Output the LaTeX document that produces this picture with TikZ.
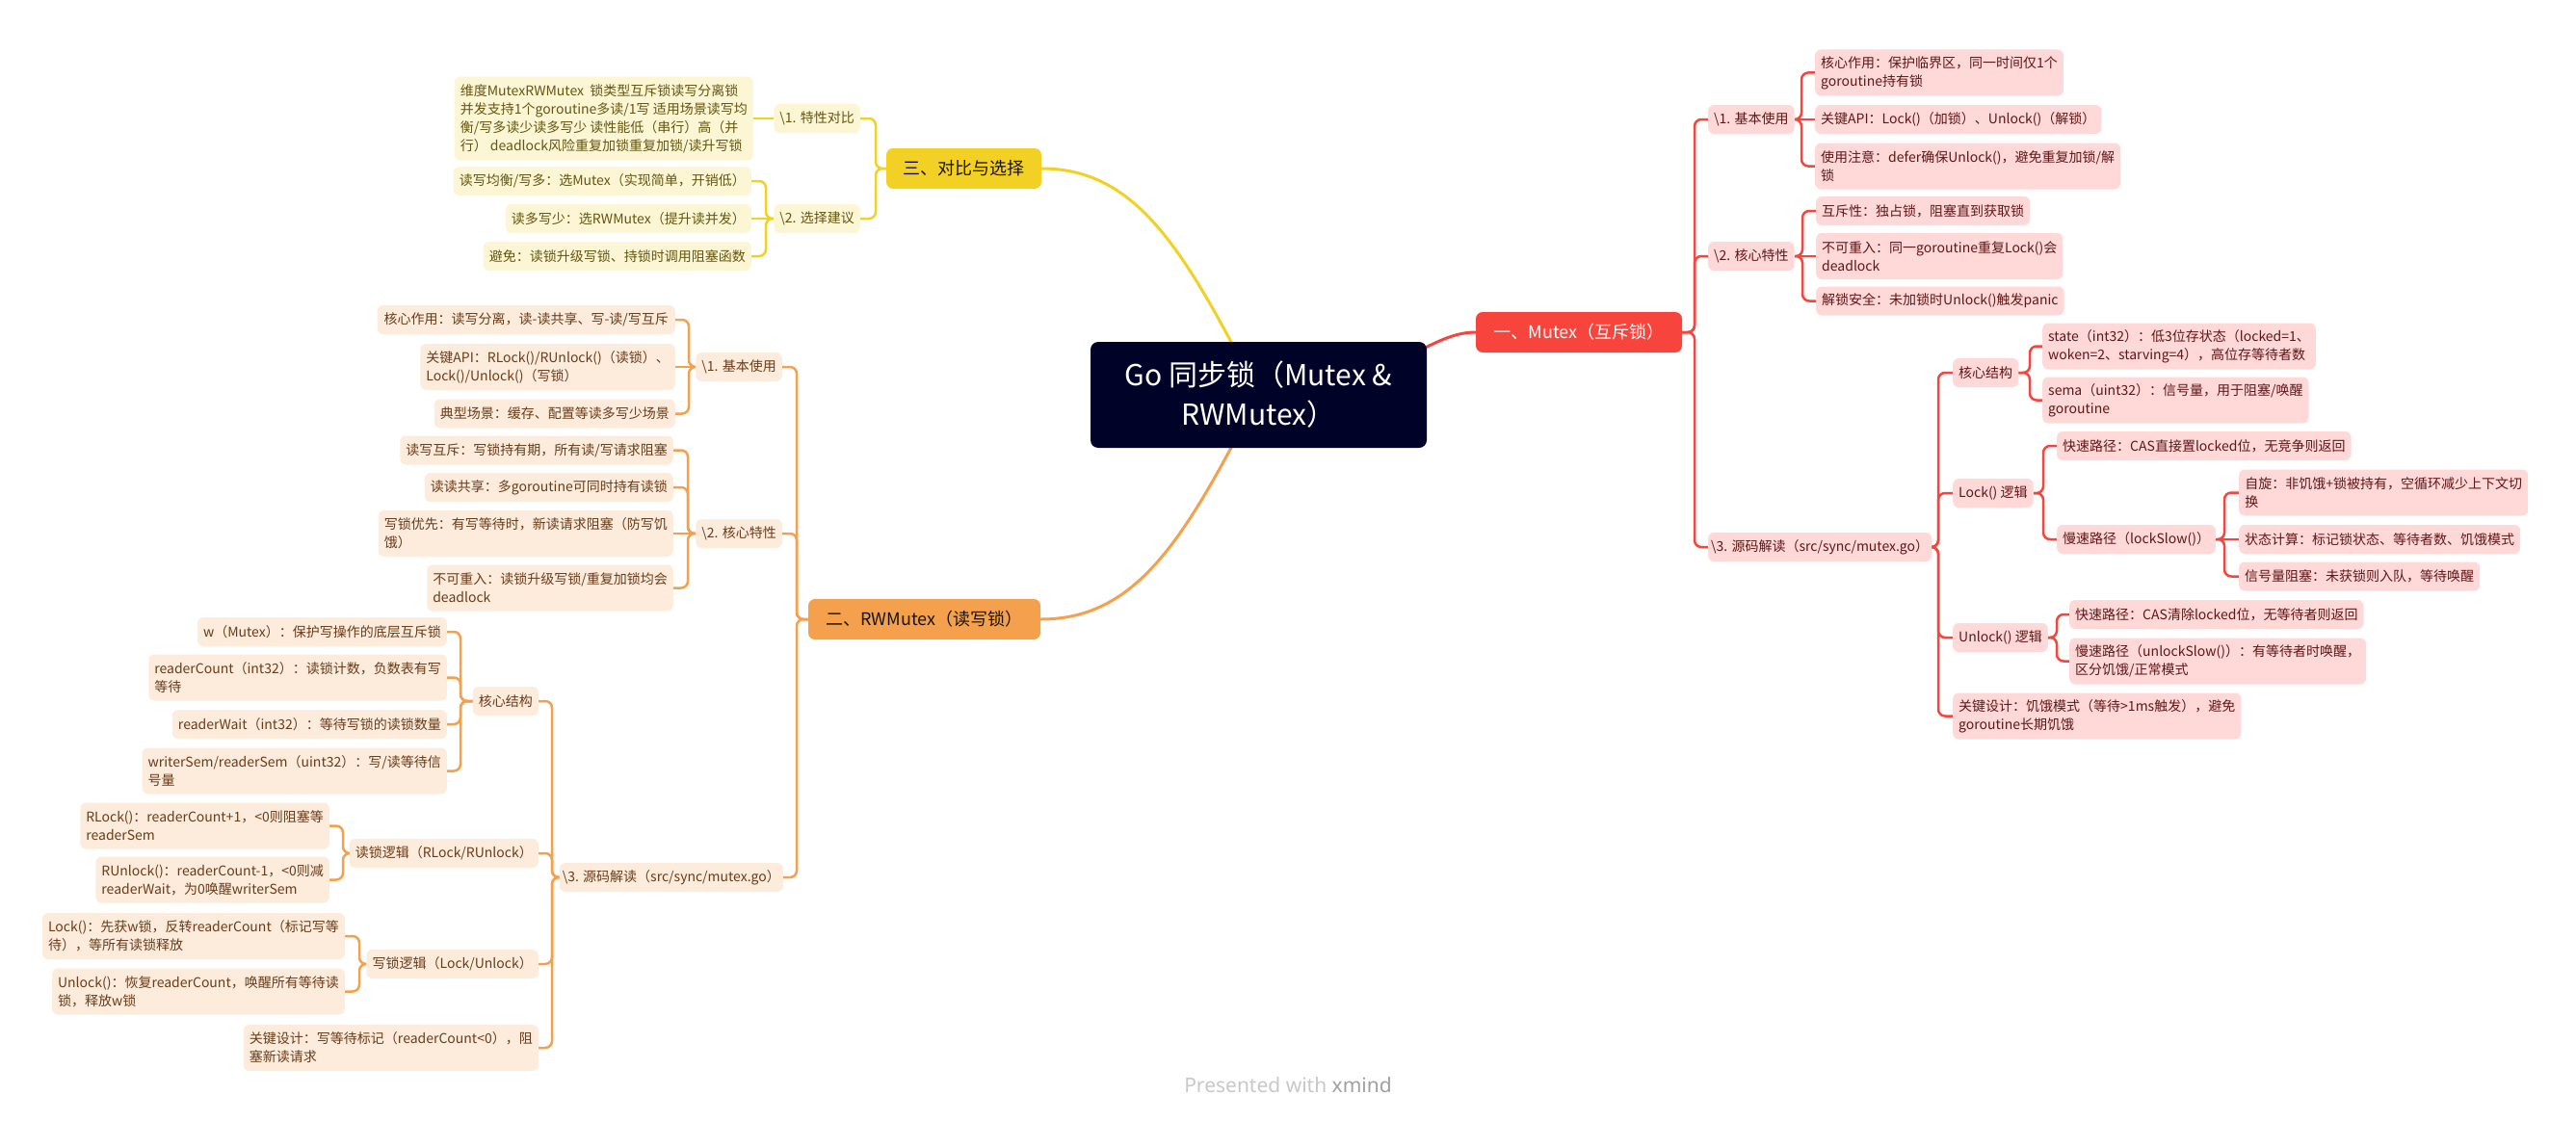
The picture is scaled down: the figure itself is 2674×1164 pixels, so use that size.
\documentclass[tikz,border=0pt]{standalone}
\usepackage{fontspec}
\setmainfont{Noto Sans CJK SC}
\newfontfamily\wmfont{Noto Sans}
\pgfdeclarelayer{bgl}
\pgfdeclarelayer{lines}
\pgfsetlayers{bgl,lines,main}
\definecolor{cnavy}{RGB}{0,2,40}
\definecolor{cred}{RGB}{247,69,61}
\definecolor{credlt}{RGB}{255,216,216}
\definecolor{credtx}{RGB}{95,22,22}
\definecolor{cor}{RGB}{245,160,77}
\definecolor{corlt}{RGB}{253,235,220}
\definecolor{cortx}{RGB}{105,60,25}
\definecolor{cye}{RGB}{242,209,36}
\definecolor{cyelt}{RGB}{252,246,212}
\definecolor{cyetx}{RGB}{100,85,15}
\definecolor{lonetx}{RGB}{25,20,10}
\definecolor{cwm}{RGB}{200,200,200}
\definecolor{cwmb}{RGB}{160,160,160}
\begin{document}
\begin{tikzpicture}[x=1pt,y=-1pt,
  base/.style={rounded corners=6pt, inner xsep=6pt, inner ysep=4pt, font=\fontsize{14}{19}\selectfont, align=left},
  rN/.style={base, fill=credlt, text=credtx},
  oN/.style={base, fill=corlt, text=cortx},
  yN/.style={base, fill=cyelt, text=cyetx},
  sa/.style={minimum height=30},
  sb/.style={minimum height=48},
  lone/.style={rounded corners=7pt, minimum height=42, inner xsep=10pt, font=\fontsize{18}{22}\selectfont},
  cnode/.style={rounded corners=8pt, fill=cnavy, text=white, minimum width=349, minimum height=110, align=center, font=\fontsize{30}{41}\selectfont},
  rl/.style={draw=cred, line width=2.5pt, rounded corners=7pt},
  ol/.style={draw=cor, line width=2.5pt, rounded corners=7pt},
  yl/.style={draw=cye, line width=2.5pt, rounded corners=7pt},
  cur/.style={line width=3pt}
]
\begin{pgfonlayer}{bgl}
\fill[white] (0,0) rectangle (2674,1164);
\end{pgfonlayer}
\useasboundingbox (0,0) rectangle (2674,1164);

% central and level 1
\node[cnode] (root) at (1306.5,410) {Go 同步锁（Mutex \&\\RWMutex）};
\node[lone, fill=cred, text=white, minimum width=214] (mutex) at (1639,345) {一、Mutex（互斥锁）};
\node[lone, fill=cor, text=lonetx, minimum width=241] (rw) at (959.5,643) {二、RWMutex（读写锁）};
\node[lone, fill=cye, text=lonetx, minimum width=161] (cmp) at (1000.5,175) {三、对比与选择};

% ---------- Mutex ----------
\node[rN, sa, anchor=west, minimum width=83] (m1) at (1773,124) {\textbackslash1. 基本使用};
\node[rN, sa, anchor=west, minimum width=85] (m2) at (1773,266) {\textbackslash2. 核心特性};
\node[rN, sa, anchor=west, minimum width=219, inner xsep=3pt] (m3) at (1773,568) {\textbackslash3. 源码解读（src/sync/mutex.go）};

\node[rN, sb, anchor=west, minimum width=255] (m11) at (1884,75.5) {核心作用：保护临界区，同一时间仅1个\\goroutine持有锁};
\node[rN, sa, anchor=west, minimum width=290] (m12) at (1884,124) {关键API：Lock()（加锁）、Unlock()（解锁）};
\node[rN, sb, anchor=west, minimum width=313] (m13) at (1884,172.5) {使用注意：defer确保Unlock()，避免重复加锁/解\\锁};

\node[rN, sa, anchor=west, minimum width=222] (m21) at (1885,219) {互斥性：独占锁，阻塞直到获取锁};
\node[rN, sb, anchor=west, minimum width=254] (m22) at (1885,266) {不可重入：同一goroutine重复Lock()会\\deadlock};
\node[rN, sa, anchor=west, minimum width=252] (m23) at (1885,312.5) {解锁安全：未加锁时Unlock()触发panic};

\node[rN, sa, anchor=west, minimum width=66] (m31) at (2027,387) {核心结构};
\node[rN, sa, anchor=west, minimum width=81] (m32) at (2027,512) {Lock() 逻辑};
\node[rN, sa, anchor=west, minimum width=94] (m33) at (2027,662) {Unlock() 逻辑};
\node[rN, sb, anchor=west, minimum width=294] (m34) at (2027,743.5) {关键设计：饥饿模式（等待>1ms触发），避免\\goroutine长期饥饿};

\node[rN, sb, anchor=west, minimum width=276] (m311) at (2120,359.5) {state（int32）：低3位存状态（locked=1、\\woken=2、starving=4），高位存等待者数};
\node[rN, sb, anchor=west, minimum width=270] (m312) at (2120,415.5) {sema（uint32）：信号量，用于阻塞/唤醒\\goroutine};

\node[rN, sa, anchor=west, minimum width=303] (m321) at (2135,463) {快速路径：CAS直接置locked位，无竞争则返回};
\node[rN, sa, anchor=west, minimum width=161] (m322) at (2135,560) {慢速路径（lockSlow()）};

\node[rN, sb, anchor=west, minimum width=300] (m3221) at (2324,511.5) {自旋：非饥饿+锁被持有，空循环减少上下文切\\换};
\node[rN, sa, anchor=west, minimum width=290] (m3222) at (2324,560) {状态计算：标记锁状态、等待者数、饥饿模式};
\node[rN, sa, anchor=west, minimum width=249] (m3223) at (2324,598.5) {信号量阻塞：未获锁则入队，等待唤醒};

\node[rN, sa, anchor=west, minimum width=303] (m331) at (2148,638) {快速路径：CAS清除locked位，无等待者则返回};
\node[rN, sb, anchor=west, minimum width=302] (m332) at (2148,686.5) {慢速路径（unlockSlow()）：有等待者时唤醒，\\区分饥饿/正常模式};

% ---------- Compare (yellow) ----------
\node[yN, sa, anchor=east, minimum width=84] (y1) at (893,123) {\textbackslash1. 特性对比};
\node[yN, sa, anchor=east, minimum width=85] (y2) at (893,227) {\textbackslash2. 选择建议};
\node[yN, minimum height=87, anchor=east, minimum width=304] (y11) at (782,123) {维度MutexRWMutex\ \ 锁类型互斥锁读写分离锁\\并发支持1个goroutine多读/1写 适用场景读写均\\衡/写多读少读多写少 读性能低（串行）高（并\\行） deadlock风险重复加锁重复加锁/读升写锁};
\node[yN, sa, anchor=east, minimum width=307] (y21) at (780,188) {读写均衡/写多：选Mutex（实现简单，开销低）};
\node[yN, sa, anchor=east, minimum width=254] (y22) at (780,227) {读多写少：选RWMutex（提升读并发）};
\node[yN, sa, anchor=east, minimum width=277] (y23) at (780,266) {避免：读锁升级写锁、持锁时调用阻塞函数};

% ---------- RWMutex (orange) ----------
\node[oN, sa, anchor=east, minimum width=84] (o1) at (812,381) {\textbackslash1. 基本使用};
\node[oN, sa, anchor=east, minimum width=86] (o2) at (812,554) {\textbackslash2. 核心特性};
\node[oN, sa, anchor=east, minimum width=223, inner xsep=3pt] (o3) at (813,911) {\textbackslash3. 源码解读（src/sync/mutex.go）};

\node[oN, sa, anchor=east, minimum width=309] (o11) at (701,332) {核心作用：读写分离，读-读共享、写-读/写互斥};
\node[oN, sb, anchor=east, minimum width=255] (o12) at (701,381) {关键API：RLock()/RUnlock()（读锁）、\\Lock()/Unlock()（写锁）};
\node[oN, sa, anchor=east, minimum width=249] (o13) at (701,429.5) {典型场景：缓存、配置等读多写少场景};

\node[oN, sa, anchor=east, minimum width=282] (o21) at (699,467.5) {读写互斥：写锁持有期，所有读/写请求阻塞};
\node[oN, sa, anchor=east, minimum width=253] (o22) at (699,506) {读读共享：多goroutine可同时持有读锁};
\node[oN, sb, anchor=east, minimum width=304] (o23) at (699,554) {写锁优先：有写等待时，新读请求阻塞（防写饥\\饿）};
\node[oN, sb, anchor=east, minimum width=253] (o24) at (699,610.5) {不可重入：读锁升级写锁/重复加锁均会\\deadlock};

\node[oN, sa, anchor=east, minimum width=66] (o31) at (559,728) {核心结构};
\node[oN, sa, anchor=east, minimum width=191] (o32) at (559,886) {读锁逻辑（RLock/RUnlock）};
\node[oN, sa, anchor=east, minimum width=174] (o33) at (559,1001) {写锁逻辑（Lock/Unlock）};
\node[oN, sb, anchor=east, minimum width=304] (o34) at (559,1088) {关键设计：写等待标记（readerCount<0），阻\\塞新读请求};

\node[oN, sa, anchor=east, minimum width=256] (o311) at (464,656) {w（Mutex）：保护写操作的底层互斥锁};
\node[oN, sb, anchor=east, minimum width=303] (o312) at (464,703.5) {readerCount（int32）：读锁计数，负数表有写\\等待};
\node[oN, sa, anchor=east, minimum width=280] (o313) at (464,752) {readerWait（int32）：等待写锁的读锁数量};
\node[oN, sb, anchor=east, minimum width=301] (o314) at (464,800.5) {writerSem/readerSem（uint32）：写/读等待信\\号量};

\node[oN, sb, anchor=east, minimum width=252] (o321) at (342,857.5) {RLock()：readerCount+1，<0则阻塞等\\readerSem};
\node[oN, sb, anchor=east, minimum width=235] (o322) at (342,913.5) {RUnlock()：readerCount-1，<0则减\\readerWait，为0唤醒writerSem};

\node[oN, sb, anchor=east, minimum width=307] (o331) at (358,972) {Lock()：先获w锁，反转readerCount（标记写等\\待），等所有读锁释放};
\node[oN, sb, anchor=east, minimum width=296] (o332) at (358,1029.5) {Unlock()：恢复readerCount，唤醒所有等待读\\锁，释放w锁};

% watermark
\node[font=\wmfont\fontsize{21}{24}\selectfont, text=cwm] (wm) at (1337,1127) {Presented with {\color{cwmb}\bfseries xmind}};

% ---------- connectors ----------
\begin{pgfonlayer}{lines}
\draw[cur, draw=cred] (root.center) .. controls (1450,400) and (1480,345) .. (mutex.west);
\draw[cur, draw=cye] (root.center) .. controls (1230,260) and (1180,175) .. (cmp.east);
\draw[cur, draw=cor] (root.center) .. controls (1230,560) and (1180,643) .. (rw.east);

\draw[rl] (m1.west) -- ++(-14,0) |- (mutex.east);
\draw[rl] (m2.west) -- ++(-14,0) |- (mutex.east);
\draw[rl] (m3.west) -- ++(-14,0) |- (mutex.east);
\draw[rl] (m11.west) -- ++(-14,0) |- (m1.east);
\draw[rl] (m1.east) -- (m12.west);
\draw[rl] (m13.west) -- ++(-14,0) |- (m1.east);
\draw[rl] (m21.west) -- ++(-14,0) |- (m2.east);
\draw[rl] (m2.east) -- (m22.west);
\draw[rl] (m23.west) -- ++(-14,0) |- (m2.east);
\draw[rl] (m31.west) -- ++(-15,0) |- (m3.east);
\draw[rl] (m32.west) -- ++(-15,0) |- (m3.east);
\draw[rl] (m33.west) -- ++(-15,0) |- (m3.east);
\draw[rl] (m34.west) -- ++(-15,0) |- (m3.east);
\draw[rl] (m311.west) -- ++(-13,0) |- (m31.east);
\draw[rl] (m312.west) -- ++(-13,0) |- (m31.east);
\draw[rl] (m321.west) -- ++(-14,0) |- (m32.east);
\draw[rl] (m322.west) -- ++(-14,0) |- (m32.east);
\draw[rl] (m3221.west) -- ++(-15,0) |- (m322.east);
\draw[rl] (m322.east) -- (m3222.west);
\draw[rl] (m3223.west) -- ++(-15,0) |- (m322.east);
\draw[rl] (m331.west) -- ++(-13,0) |- (m33.east);
\draw[rl] (m332.west) -- ++(-13,0) |- (m33.east);

\draw[yl] (y1.east) -- ++(16,0) |- (cmp.west);
\draw[yl] (y2.east) -- ++(16,0) |- (cmp.west);
\draw[yl] (y1.west) -- (y11.east);
\draw[yl] (y21.east) -- ++(15,0) |- (y2.west);
\draw[yl] (y2.west) -- (y22.east);
\draw[yl] (y23.east) -- ++(15,0) |- (y2.west);

\draw[ol] (o1.east) -- ++(15,0) |- (rw.west);
\draw[ol] (o2.east) -- ++(15,0) |- (rw.west);
\draw[ol] (o3.east) -- ++(14,0) |- (rw.west);
\draw[ol] (o11.east) -- ++(14,0) |- (o1.west);
\draw[ol] (o1.west) -- (o12.east);
\draw[ol] (o13.east) -- ++(14,0) |- (o1.west);
\draw[ol] (o21.east) -- ++(15,0) |- (o2.west);
\draw[ol] (o22.east) -- ++(15,0) |- (o2.west);
\draw[ol] (o2.west) -- (o23.east);
\draw[ol] (o24.east) -- ++(15,0) |- (o2.west);
\draw[ol] (o31.east) -- ++(14,0) |- (o3.west);
\draw[ol] (o32.east) -- ++(14,0) |- (o3.west);
\draw[ol] (o33.east) -- ++(14,0) |- (o3.west);
\draw[ol] (o34.east) -- ++(14,0) |- (o3.west);
\draw[ol] (o311.east) -- ++(14,0) |- (o31.west);
\draw[ol] (o312.east) -- ++(14,0) |- (o31.west);
\draw[ol] (o313.east) -- ++(14,0) |- (o31.west);
\draw[ol] (o314.east) -- ++(14,0) |- (o31.west);
\draw[ol] (o321.east) -- ++(14,0) |- (o32.west);
\draw[ol] (o322.east) -- ++(14,0) |- (o32.west);
\draw[ol] (o331.east) -- ++(15,0) |- (o33.west);
\draw[ol] (o332.east) -- ++(15,0) |- (o33.west);
\end{pgfonlayer}
\end{tikzpicture}
\end{document}
